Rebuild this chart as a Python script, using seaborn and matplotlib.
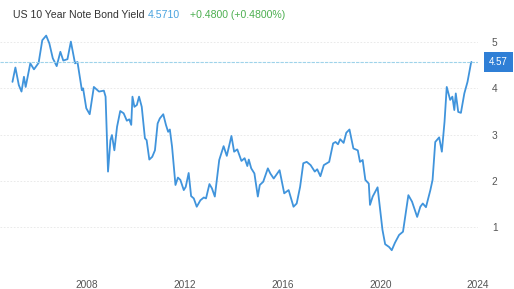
import pandas as pd
import matplotlib.pyplot as plt
import seaborn as sns

# Dados (ano decimal, rendimento %)
anos = [2004.95, 2005.07, 2005.21, 2005.32, 2005.42, 2005.49, 2005.68, 2005.83,
        2006.02, 2006.17, 2006.33, 2006.46, 2006.60, 2006.76, 2006.91, 2007.03,
        2007.20, 2007.34, 2007.51, 2007.61, 2007.79, 2007.84, 2007.97, 2008.11,
        2008.28, 2008.49, 2008.69, 2008.76, 2008.86, 2008.96, 2009.02, 2009.12,
        2009.23, 2009.36, 2009.50, 2009.63, 2009.73, 2009.81, 2009.86, 2009.94,
        2010.04, 2010.13, 2010.24, 2010.37, 2010.44, 2010.55, 2010.67, 2010.78,
        2010.89, 2010.98, 2011.12, 2011.23, 2011.32, 2011.39, 2011.48, 2011.62,
        2011.72, 2011.82, 2011.96, 2012.04, 2012.16, 2012.26, 2012.37, 2012.49,
        2012.64, 2012.78, 2012.87, 2013.01, 2013.11, 2013.23, 2013.41, 2013.59,
        2013.72, 2013.91, 2014.02, 2014.15, 2014.32, 2014.45, 2014.56, 2014.62,
        2014.72, 2014.85, 2014.99, 2015.07, 2015.21, 2015.40, 2015.50, 2015.64,
        2015.88, 2016.07, 2016.25, 2016.45, 2016.58, 2016.72, 2016.85, 2016.99,
        2017.15, 2017.32, 2017.42, 2017.55, 2017.69, 2017.91, 2018.07, 2018.17,
        2018.27, 2018.36, 2018.50, 2018.61, 2018.74, 2018.90, 2019.08, 2019.17,
        2019.28, 2019.39, 2019.53, 2019.58, 2019.69, 2019.89, 2020.09, 2020.20,
        2020.36, 2020.47, 2020.60, 2020.77, 2020.93, 2021.15, 2021.30, 2021.51,
        2021.64, 2021.74, 2021.87, 2022.05, 2022.14, 2022.25, 2022.41, 2022.52,
        2022.63, 2022.72, 2022.86, 2022.95, 2023.03, 2023.09, 2023.19, 2023.30,
        2023.44, 2023.57, 2023.71, 2023.73]
rendimento = [4.14, 4.45, 4.07, 3.93, 4.25, 4.03, 4.54, 4.41,
              4.55, 5.04, 5.14, 4.97, 4.65, 4.48, 4.79, 4.60,
              4.63, 5.01, 4.54, 4.57, 3.96, 4.00, 3.57, 3.44,
              4.03, 3.93, 3.95, 3.82, 2.20, 2.88, 2.99, 2.66,
              3.17, 3.51, 3.46, 3.30, 3.33, 3.21, 3.82, 3.60,
              3.64, 3.82, 3.60, 2.92, 2.88, 2.46, 2.52, 2.66,
              3.24, 3.35, 3.44, 3.21, 3.06, 3.11, 2.74, 1.91,
              2.07, 2.02, 1.80, 1.87, 2.17, 1.67, 1.62, 1.44,
              1.58, 1.64, 1.62, 1.93, 1.84, 1.66, 2.45, 2.75,
              2.54, 2.97, 2.63, 2.68, 2.43, 2.49, 2.32, 2.46,
              2.27, 2.16, 1.66, 1.91, 1.98, 2.27, 2.16, 2.05,
              2.23, 1.73, 1.80, 1.44, 1.51, 1.87, 2.38, 2.41,
              2.34, 2.20, 2.25, 2.10, 2.34, 2.41, 2.81, 2.84,
              2.79, 2.90, 2.82, 3.04, 3.11, 2.70, 2.66, 2.41,
              2.45, 2.02, 1.94, 1.48, 1.66, 1.86, 0.94, 0.63,
              0.57, 0.50, 0.66, 0.83, 0.90, 1.69, 1.55, 1.22,
              1.44, 1.51, 1.43, 1.80, 2.02, 2.84, 2.94, 2.63,
              3.28, 4.03, 3.75, 3.82, 3.53, 3.89, 3.49, 3.47,
              3.89, 4.14, 4.54, 4.57]
ticks_anos = [2008, 2012, 2016, 2020, 2024]
ticks_y = [1, 2, 3, 4, 5]
ultimo = 4.5710
titulo = 'US 10 Year Note Bond Yield'
variacao = '+0.4800 (+0.4800%)'

df = pd.DataFrame({'Ano': anos, 'Rendimento': rendimento})

sns.set_style("white")
plt.rcParams['font.family'] = ['Liberation Sans', 'DejaVu Sans']

fig = plt.figure(figsize=(5.14, 2.89), dpi=100)
ax = fig.add_axes([0.0, 0.059, 0.93, 0.837])

sns.lineplot(data=df, x='Ano', y='Rendimento', ax=ax, color='#4094dc',
             linewidth=1.3, estimator=None, sort=False)

# Linha do último valor
ax.axhline(ultimo, color='#9fd3ea', linewidth=0.8, linestyle=(0, (3, 1)))

ax.set_xlim(2004.44, 2023.79)
ax.set_ylim(0.03, 5.26)
ax.set_xticks(ticks_anos)
ax.set_xticklabels([str(a) for a in ticks_anos])
ax.set_yticks(ticks_y)
ax.yaxis.tick_right()
ax.tick_params(axis='both', length=0, labelsize=7.3, colors='#555555')
ax.tick_params(axis='y', pad=10)
ax.tick_params(axis='x', pad=6)
ax.grid(axis='y', color='#e6e6e6', linewidth=0.6, linestyle=(0, (2, 2)))
for s in ax.spines.values():
    s.set_visible(False)
ax.set_xlabel('')
ax.set_ylabel('')

# Rótulo do último valor
ax.annotate(f'{ultimo:.2f}', xy=(1.0, ultimo), xycoords=ax.get_yaxis_transform(),
            xytext=(8, 0), textcoords='offset points',
            ha='left', va='center', fontsize=7, color='white',
            bbox=dict(boxstyle='square,pad=0.5', fc='#2f7fd6', ec='none'))

# Cabeçalho
fig.text(13 / 514, 1 - 15 / 289, titulo, fontsize=7.6, color='#333333', va='center')
fig.text(148 / 514, 1 - 15 / 289, f'{ultimo:.4f}', fontsize=7.6, color='#4aa3df', va='center')
fig.text(190 / 514, 1 - 15 / 289, variacao, fontsize=7.6, color='#4caf50', va='center')

plt.savefig('out.png', dpi=100)
